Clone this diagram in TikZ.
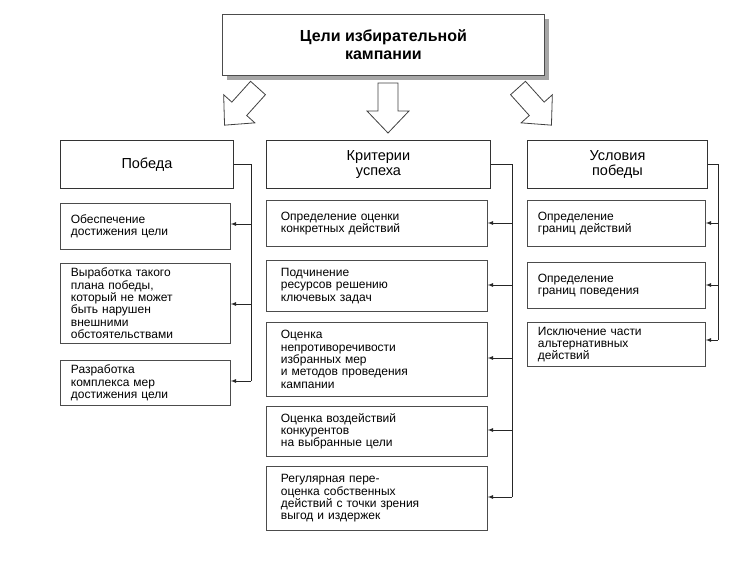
\documentclass[tikz,border=0pt]{standalone}
\usepackage{fontspec}
\setmainfont{Liberation Sans}
\begin{document}
\begin{tikzpicture}[x=1pt,y=-1pt,
 hdr/.style={draw=black!80,line width=0.9pt,fill=white,align=center,font=\fontsize{14.5}{15.5}\selectfont,anchor=north west,inner sep=0pt},
 itm/.style={draw=black!70,line width=0.8pt,fill=white,align=left,font=\fontsize{12}{12.3}\selectfont,anchor=north west,inner sep=0pt},
 con/.style={line width=0.8pt,black!85},
 tip/.style={con,-latex},
 blk/.style={draw=black!75,line width=0.8pt,fill=white}]
\useasboundingbox (0,0) rectangle (750,561);
% title
\fill[black!35] (227,19) rectangle (549,80);
\node[draw=black!70,line width=0.8pt,fill=white,minimum width=322pt,minimum height=61pt,anchor=north west,inner sep=0pt,align=center,font=\fontsize{16}{18}\selectfont\bfseries] (t) at (222,14) {Цели избирательной\\кампании};
% block arrows
\def\barrow{(-10,0) -- (10,0) -- (10,28) -- (21,28) -- (0,50) -- (-21,28) -- (-10,28) -- cycle}
\begin{scope}[shift={(388,83)}] \draw[blk] \barrow; \end{scope}
\begin{scope}[shift={(258,88)},rotate=-42] \draw[blk] \barrow; \end{scope}
\begin{scope}[shift={(518,88)},rotate=42] \draw[blk] \barrow; \end{scope}
% headers
\node[hdr,minimum width=173pt,minimum height=48pt] (h1) at (60,140) {Победа};
\node[hdr,minimum width=224pt,minimum height=48pt] (h2) at (266,140) {Критерии\\успеха};
\node[hdr,minimum width=180pt,minimum height=48pt] (h3) at (527,140) {Условия\\победы};
% left items
\begin{scope}[every node/.style={itm,minimum width=170pt,text width=165pt}]
\node[minimum height=46pt] (a1) at (60,203) {\hspace*{8pt}Обеспечение\\\hspace*{8pt}достижения цели};
\node[minimum height=80pt] (a2) at (60,263) {\hspace*{8pt}Выработка такого\\\hspace*{8pt}плана победы,\\\hspace*{8pt}который не может\\\hspace*{8pt}быть нарушен\\\hspace*{8pt}внешними\\\hspace*{8pt}обстоятельствами};
\node[minimum height=45pt] (a3) at (60,360) {\hspace*{8pt}Разработка\\\hspace*{8pt}комплекса мер\\\hspace*{8pt}достижения цели};
\end{scope}
\begin{scope}[every node/.style={itm,minimum width=221pt,text width=216pt}]
\node[minimum height=46pt] (b1) at (266,200) {\hspace*{12pt}Определение оценки\\\hspace*{12pt}конкретных действий};
\node[minimum height=51pt] (b2) at (266,260) {\hspace*{12pt}Подчинение\\\hspace*{12pt}ресурсов решению\\\hspace*{12pt}ключевых задач};
\node[minimum height=74pt] (b3) at (266,322) {\hspace*{12pt}Оценка\\\hspace*{12pt}непротиворечивости\\\hspace*{12pt}избранных мер\\\hspace*{12pt}и методов проведения\\\hspace*{12pt}кампании};
\node[minimum height=50pt] (b4) at (266,406) {\hspace*{12pt}Оценка воздействий\\\hspace*{12pt}конкурентов\\\hspace*{12pt}на выбранные цели};
\node[minimum height=64pt] (b5) at (266,466) {\hspace*{12pt}Регулярная пере-\\\hspace*{12pt}оценка собственных\\\hspace*{12pt}действий с точки зрения\\\hspace*{12pt}выгод и издержек};
\end{scope}
\begin{scope}[every node/.style={itm,minimum width=178pt,text width=173pt}]
\node[minimum height=46pt] (c1) at (527,200) {\hspace*{8pt}Определение\\\hspace*{8pt}границ действий};
\node[minimum height=46pt] (c2) at (527,262) {\hspace*{8pt}Определение\\\hspace*{8pt}границ поведения};
\node[minimum height=44pt] (c3) at (527,322) {\hspace*{8pt}Исключение части\\\hspace*{8pt}альтернативных\\\hspace*{8pt}действий};
\end{scope}
% connectors
\coordinate (l0) at (251,164); \coordinate (l1) at (251,224); \coordinate (l2) at (251,304); \coordinate (l3) at (251,381);
\draw[con] (h1.east |- l0) -- (l0) -- (l3);
\draw[tip] (l1) -- (a1.east |- l1);
\draw[tip] (l2) -- (a2.east |- l2);
\draw[tip] (l3) -- (a3.east |- l3);
\coordinate (m0) at (512,164);
\foreach \n/\y in {1/223,2/285,3/358,4/430,5/497}{\coordinate (m\n) at (512,\y); \draw[tip] (m\n) -- (b\n.east |- m\n);}
\draw[con] (h2.east |- m0) -- (m0) -- (m5);
\coordinate (r0) at (718,164);
\foreach \n/\y in {1/223,2/285,3/340}{\coordinate (r\n) at (718,\y); \draw[tip] (r\n) -- (c\n.east |- r\n);}
\draw[con] (h3.east |- r0) -- (r0) -- (r3);
\end{tikzpicture}
\end{document}
